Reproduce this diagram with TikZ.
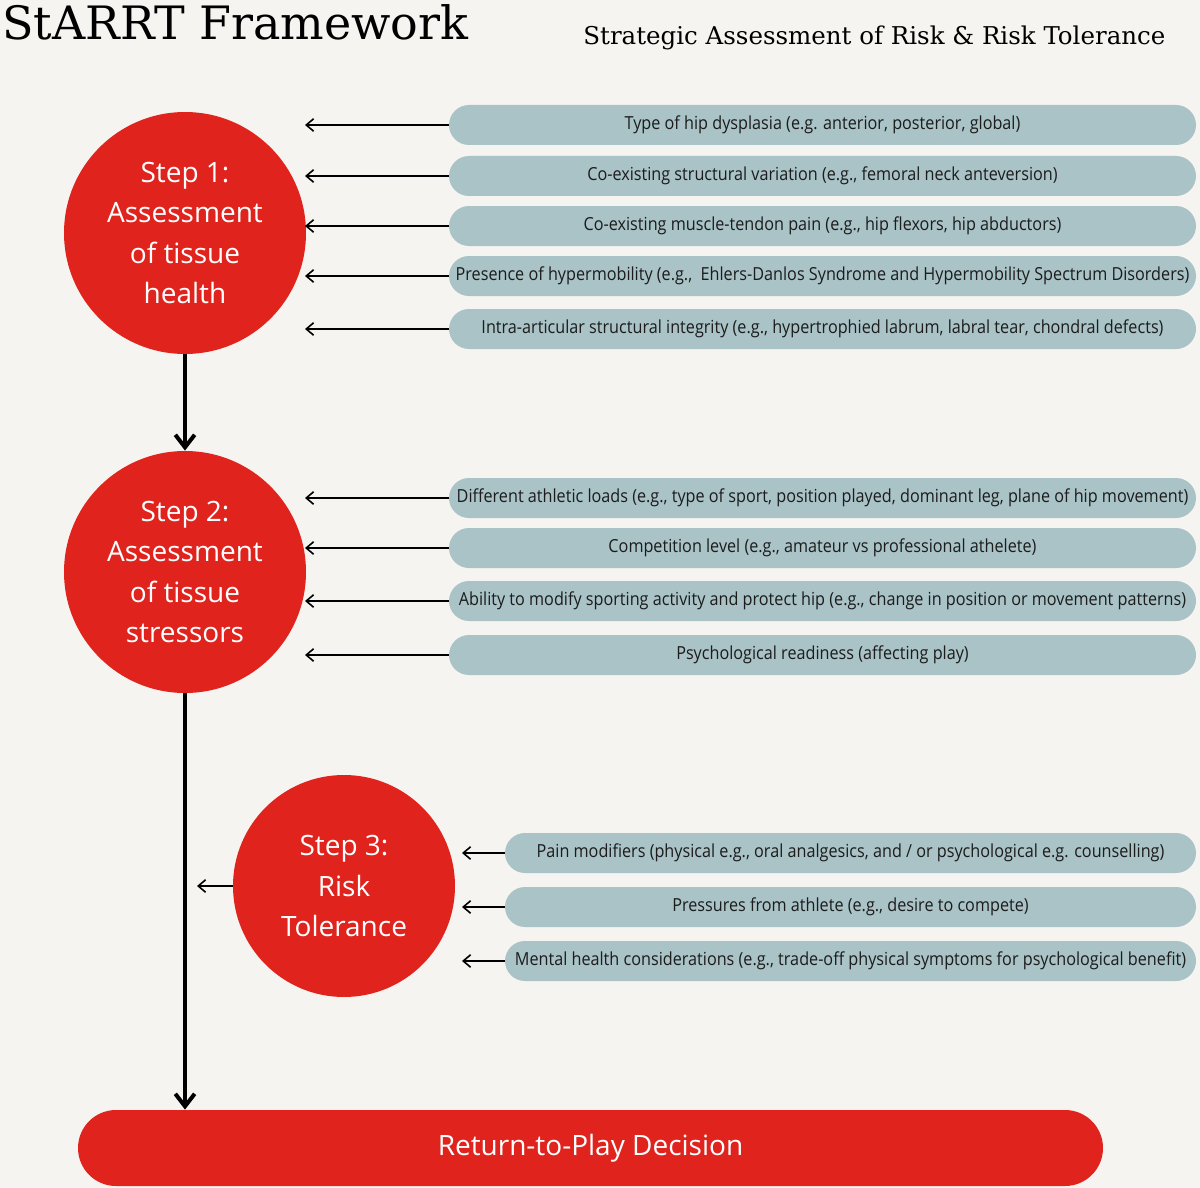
\documentclass[tikz,border=0pt]{standalone}
\usepackage{fontspec}
\setmainfont{Open Sans}
\newfontfamily\slabfont{DejaVu Serif}
\newfontfamily\boxfont[FakeStretch=0.9]{Open Sans}
\usetikzlibrary{arrows.meta,positioning}
\definecolor{pagebg}{HTML}{F6F4F0}
\definecolor{stepred}{HTML}{E0231D}
\definecolor{factorfill}{HTML}{A9C3C7}
\definecolor{factortext}{HTML}{1C1C1C}
\tikzset{
  flowarr/.style={-{Straight Barb[length=2.2mm,width=3.4mm]}, line width=2pt, draw=black},
  feedarr/.style={-{Straight Barb[length=1.3mm,width=2.2mm]}, line width=0.8pt, draw=black},
  stepnode/.style={circle, fill=stepred, text=white, align=center, inner sep=0pt, font=\fontsize{14}{20.3}\selectfont},
  factor/.style={fill=factorfill, rounded corners=10pt, minimum height=20pt, inner sep=0pt, text=factortext, font=\boxfont\fontsize{9}{10}\selectfont},
}

\begin{document}
\begin{tikzpicture}[
  x=0.5pt, y=-0.5pt,
  wide/.style={factor, minimum width=373.5pt},
  narrow/.style={factor, minimum width=345.5pt},
]
  \fill[pagebg] (0,0) rectangle (1200,1188);

  \node[anchor=base west, inner sep=0pt, font=\slabfont\fontsize{23}{27}\selectfont] (title) at (2,40) {StARRT Framework};
  \node[anchor=base west, inner sep=0pt, font=\slabfont\fontsize{12.25}{15}\selectfont] (subtitle) at (583,45) {Strategic Assessment of Risk \& Risk Tolerance};

  % steps
  \node[stepnode, minimum size=121pt] (s1) at (185,233) {Step 1:\\Assessment\\of tissue\\health};
  \node[stepnode, minimum size=121pt] (s2) at (185,572) {Step 2:\\Assessment\\of tissue\\stressors};
  \node[stepnode, minimum size=111pt] (s3) at (344,886) {Step 3:\\Risk\\Tolerance};
  \node[fill=stepred, rounded corners=19pt, minimum width=512.5pt, minimum height=38pt, text=white, font=\fontsize{14}{16}\selectfont] (rtp) at (590.5,1148) {Return-to-Play Decision};

  \draw[flowarr] (s1) -- (s2);
  \draw[flowarr] (s2.south) -- (s2.south |- rtp.north);
  \coordinate (s3out) at (197,886);
  \draw[feedarr] (s3.west) -- (s3out);

  % tissue health
  \foreach \i/\y/\txt in {
    1/125/{Type of hip dysplasia (e.g. anterior, posterior, global)},
    2/176/{Co-existing structural variation (e.g., femoral neck anteversion)},
    3/226/{Co-existing muscle-tendon pain (e.g., hip flexors, hip abductors)},
    4/276/{Presence of hypermobility (e.g.,\ \ Ehlers-Danlos Syndrome and Hypermobility Spectrum Disorders)},
    5/329/{Intra-articular structural integrity (e.g., hypertrophied labrum, labral tear, chondral defects)}} {
    \node[wide] (h\i) at (822.5,\y) {\txt};
    \coordinate (h\i tip) at (305,\y);
    \draw[feedarr] (h\i.west) -- (h\i tip);
  }

  % tissue stressors
  \foreach \i/\y/\txt in {
    1/498/{Different athletic loads (e.g., type of sport, position played, dominant leg, plane of hip movement)},
    2/548/{Competition level (e.g., amateur vs professional athelete)},
    3/601/{Ability to modify sporting activity and protect hip (e.g., change in position or movement patterns)},
    4/655/{Psychological readiness (affecting play)}} {
    \node[wide] (t\i) at (822.5,\y) {\txt};
    \coordinate (t\i tip) at (305,\y);
    \draw[feedarr] (t\i.west) -- (t\i tip);
  }

  % risk tolerance
  \foreach \i/\y/\txt in {
    1/853/{Pain modifiers (physical e.g., oral analgesics, and / or psychological e.g. counselling)},
    2/907/{Pressures from athlete (e.g., desire to compete)},
    3/961/{Mental health considerations (e.g., trade-off physical symptoms for psychological benefit)}} {
    \node[narrow] (r\i) at (850.5,\y) {\txt};
    \coordinate (r\i tip) at (462,\y);
    \draw[feedarr] (r\i.west) -- (r\i tip);
  }
\end{tikzpicture}
\end{document}
